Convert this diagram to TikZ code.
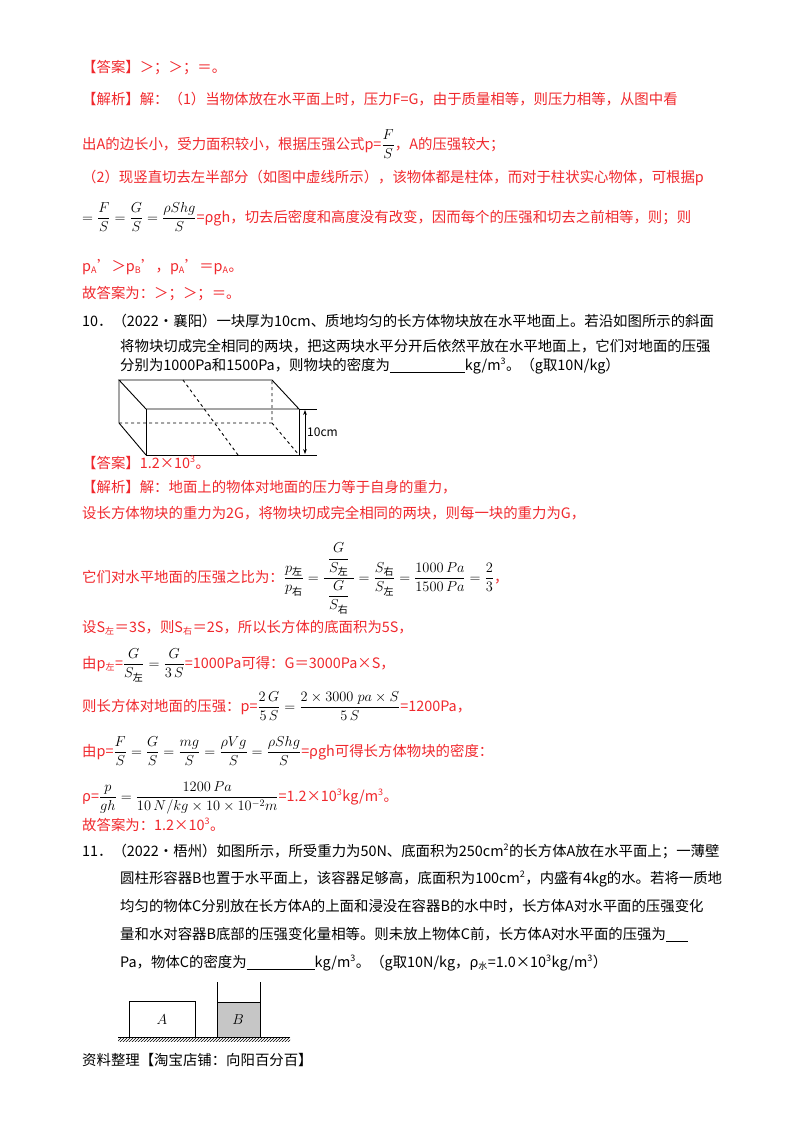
\documentclass[tikz,border=0pt]{standalone}
\usepackage{amsmath}
\usepackage{fontspec}
\setmainfont{Noto Sans CJK SC}
\usetikzlibrary{arrows.meta,patterns}
\definecolor{ans}{HTML}{F0282D}
\newcommand{\cz}{\text{\fontsize{10}{10}\selectfont 左}}
\newcommand{\cy}{\text{\fontsize{10}{10}\selectfont 右}}
\newcommand{\sbx}[1]{\textsubscript{\fontsize{9}{9}\selectfont #1}}
\newcommand{\spx}[1]{\textsuperscript{\fontsize{9}{9}\selectfont #1}}
\begin{document}
\begin{tikzpicture}[x=1pt,y=-1pt,
  t/.style={anchor=base west,inner sep=0pt,font=\fontsize{14.4}{17}\selectfont},
  r/.style={t,text=ans},
  b/.style={t,text=black},
  ln/.style={line width=0.9pt}]
\useasboundingbox (0,0) rectangle (800,1132);
\node[r] (l1) at (82,73) {【答案】＞；＞；＝。};
\node[r] (l2) at (82,104) {【解析】解：（1）当物体放在水平面上时，压力F=G，由于质量相等，则压力相等，从图中看};
\node[r] (l3) at (82,149) {出A的边长小，受力面积较小，根据压强公式p=\textcolor{black}{$\dfrac{F}{S}$}，A的压强较大；};
\node[r] (l4) at (82,182) {（2）现竖直切去左半部分（如图中虚线所示），该物体都是柱体，而对于柱状实心物体，可根据p};
\node[r] (l5) at (82,222) {\textcolor{black}{$=\dfrac{F}{S}=\dfrac{G}{S}=\dfrac{\rho Shg}{S}$}=ρgh，切去后密度和高度没有改变，因而每个的压强和切去之前相等，则；则};
\node[r] (l6) at (82,271) {p\sbx{A}'＞p\sbx{B}'，p\sbx{A}'＝p\sbx{A}。};
\node[r] (l7) at (82,298) {故答案为：＞；＞；＝。};
\node[b] (q1) at (82,326) {10．（2022•襄阳）一块厚为10cm、质地均匀的长方体物块放在水平地面上。若沿如图所示的斜面};
\node[b] (q2) at (120,351) {将物块切成完全相同的两块，把这两块水平分开后依然平放在水平地面上，它们对地面的压强};
\node[b] (q3) at (120,370) {分别为1000Pa和1500Pa，则物块的密度为\underline{\hspace{75pt}}kg/m\spx{3}。（g取10N/kg）};
% figure 1
\coordinate (bt1) at (119,380); \coordinate (bt2) at (272,380);
\coordinate (ft1) at (146,409); \coordinate (ft2) at (299,409);
\coordinate (fb1) at (146,455); \coordinate (fb2) at (299,455);
\coordinate (bb1) at (119,423); \coordinate (bb2) at (272,423);
\draw[ln] (bt1)--(bt2)--(ft2)--(ft1)--cycle;
\draw[ln] (ft1)--(fb1)--(fb2)--(ft2);
\draw[ln] (bt1)--(bb1)--(fb1);
\draw[ln,dashed] (bb1)--(bb2)--(bt2) (bb2)--(fb2);
\draw[ln,dashed] (183,380)--(238,455);
\draw (ft2)--(317,409) (fb2)--(317,455);
\draw[ln,{Stealth[length=5pt]}-{Stealth[length=5pt]}] (305,410)--(305,454);
\node[anchor=west,inner sep=0pt,font=\fontsize{12}{12}\selectfont] (cm) at (307,432) {10cm};
\node[r] (a1) at (82,468) {【答案】1.2×10\spx{3}。};
\node[r] (a2) at (82,492) {【解析】解：地面上的物体对地面的压力等于自身的重力，};
\node[r] (a3) at (82,518) {设长方体物块的重力为2G，将物块切成完全相同的两块，则每一块的重力为G，};
\node[r] (a4) at (82,582) {它们对水平地面的压强之比为：\textcolor{black}{$\dfrac{p_{\cz}}{p_{\cy}}=\dfrac{\;\dfrac{G}{S_{\cz}}\;}{\dfrac{G}{S_{\cy}}}=\dfrac{S_{\cy}}{S_{\cz}}=\dfrac{1000\,Pa}{1500\,Pa}=\dfrac{2}{3}$}，};
\node[r] (a5) at (82,632) {设S\sbx{左}＝3S，则S\sbx{右}＝2S，所以长方体的底面积为5S，};
\node[r] (a6) at (82,668) {由p\sbx{左}=\textcolor{black}{$\dfrac{G}{S_{\cz}}=\dfrac{G}{3\,S}$}=1000Pa可得：G＝3000Pa×S，};
\node[r] (a7) at (82,711) {则长方体对地面的压强：p=\textcolor{black}{$\dfrac{2\,G}{5\,S}=\dfrac{2\times3000\;pa\times S}{5\,S}$}=1200Pa，};
\node[r] (a8) at (82,756) {由p=\textcolor{black}{$\dfrac{F}{S}=\dfrac{G}{S}=\dfrac{mg}{S}=\dfrac{\rho Vg}{S}=\dfrac{\rho Shg}{S}$}=ρgh可得长方体物块的密度：};
\node[r] (a9) at (82,801) {ρ=\textcolor{black}{$\dfrac{p}{gh}=\dfrac{1200\,Pa}{10\,N/kg\times10\times10^{-2}m}$}=1.2×10\spx{3}kg/m\spx{3}。};
\node[r] (a10) at (82,830) {故答案为：1.2×10\spx{3}。};
\node[b] (p1) at (82,856) {11．（2022•梧州）如图所示，所受重力为50N、底面积为250cm\spx{2}的长方体A放在水平面上；一薄壁};
\node[b] (p2) at (120,883) {圆柱形容器B也置于水平面上，该容器足够高，底面积为100cm\spx{2}，内盛有4kg的水。若将一质地};
\node[b] (p3) at (120,911) {均匀的物体C分别放在长方体A的上面和浸没在容器B的水中时，长方体A对水平面的压强变化};
\node[b] (p4) at (120,939) {量和水对容器B底部的压强变化量相等。则未放上物体C前，长方体A对水平面的压强为\underline{\hspace{22pt}}};
\node[b] (p5) at (120,967) {Pa，物体C的密度为\underline{\hspace{68pt}}kg/m\spx{3}。（g取10N/kg，ρ\sbx{水}=1.0×10\spx{3}kg/m\spx{3}）};
% figure 2
\fill[pattern=north east lines] (118,1037) rectangle (290,1041);
\draw (118,1037)--(290,1037);
\fill[gray!45] (217,1002) rectangle (260,1037);
\draw (217,1002)--(260,1002);
\draw (217,982)--(217,1037) (260,982)--(260,1037);
\draw[ln] (129,1037)--(129,1001)--(195,1001)--(195,1037);
\node[font=\fontsize{14}{14}\selectfont\itshape] (A) at (162,1020) {$A$};
\node[font=\fontsize{14}{14}\selectfont\itshape] (B) at (238,1020) {$B$};
\node[b] (f) at (82,1065) {资料整理【淘宝店铺：向阳百分百】};
\end{tikzpicture}
\end{document}
